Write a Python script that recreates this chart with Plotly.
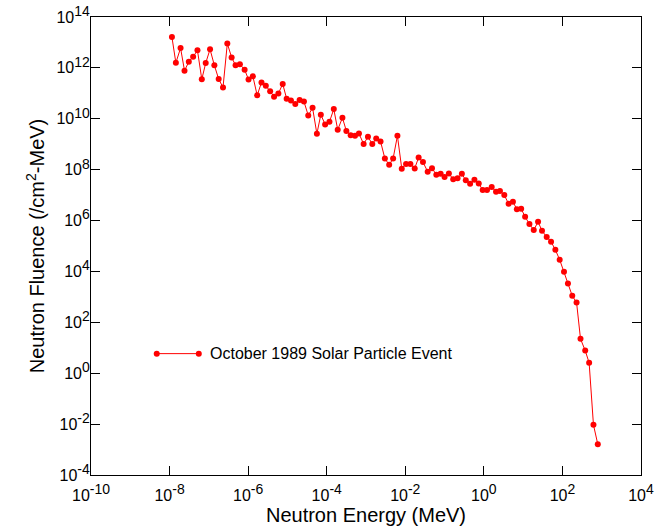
import plotly.graph_objects as go

# log10 of neutron energy (MeV)
log_energy = [
    -7.94, -7.84, -7.72, -7.62, -7.51, -7.40, -7.29, -7.18, -7.08, -6.97,
    -6.86, -6.75, -6.64, -6.53, -6.42, -6.32, -6.21, -6.09, -5.99, -5.88,
    -5.77, -5.66, -5.55, -5.44, -5.34, -5.23, -5.12, -5.02, -4.91, -4.80,
    -4.69, -4.58, -4.47, -4.36, -4.25, -4.15, -4.04, -3.93, -3.82, -3.72,
    -3.60, -3.50, -3.39, -3.28, -3.18, -3.06, -2.95, -2.84, -2.74, -2.63,
    -2.52, -2.41, -2.31, -2.20, -2.09, -1.98, -1.87, -1.76, -1.66, -1.55,
    -1.43, -1.32, -1.21, -1.10, -1.00, -0.89, -0.78, -0.67, -0.56, -0.46,
    -0.35, -0.24, -0.13, -0.03, 0.08, 0.20, 0.31, 0.41, 0.52, 0.63,
    0.74, 0.84, 0.95, 1.05, 1.16, 1.27, 1.38, 1.48, 1.60, 1.71,
    1.82, 1.93, 2.04, 2.14, 2.25, 2.36, 2.46, 2.58, 2.68, 2.79,
    2.90,
]

# log10 of neutron fluence (/cm^2-MeV)
log_fluence = [
    13.21, 12.20, 12.78, 11.89, 12.24, 12.44, 12.69, 11.55, 12.19, 12.73,
    12.10, 11.56, 11.23, 12.96, 12.41, 12.10, 12.14, 11.93, 11.54, 11.67,
    10.92, 11.43, 11.30, 11.08, 10.87, 10.99, 11.37, 10.79, 10.72, 10.58,
    10.74, 10.68, 10.13, 10.43, 9.41, 10.16, 9.78, 9.88, 10.38, 9.57,
    10.04, 9.52, 9.35, 9.33, 9.42, 9.01, 9.29, 9.01, 9.22, 9.11,
    8.44, 8.19, 8.44, 9.33, 8.04, 8.22, 8.22, 8.05, 8.48, 8.30,
    7.92, 8.06, 7.80, 7.84, 7.71, 7.85, 7.62, 7.66, 7.84, 7.58,
    7.45, 7.60, 7.46, 7.20, 7.20, 7.32, 7.13, 7.16, 7.00, 6.66,
    6.74, 6.44, 6.46, 6.15, 5.86, 5.63, 5.95, 5.60, 5.35, 5.17,
    4.85, 4.46, 3.99, 3.53, 3.04, 2.78, 1.35, 0.89, 0.41, -2.03,
    -2.79,
]

energy = [10 ** v for v in log_energy]
fluence = [10 ** v for v in log_fluence]

x_tick_exp = [-10, -8, -6, -4, -2, 0, 2, 4]
y_tick_exp = [-4, -2, 0, 2, 4, 6, 8, 10, 12, 14]
series_name = "October 1989 Solar Particle Event"

RED = "#ff0000"
FONT = "Liberation Sans, Arial, Helvetica, sans-serif"


def pow_label(e):
    return f"10<sup><span style='font-size:14px'>{e}</span></sup>"


fig = go.Figure()
fig.add_trace(go.Scatter(
    x=energy, y=fluence, mode="lines+markers", name=series_name,
    line=dict(color=RED, width=1),
    marker=dict(color=RED, size=6),
    showlegend=False,
))

axis_common = dict(
    type="log", showgrid=False, zeroline=False,
    showline=True, linecolor="black", linewidth=1, mirror="ticks",
    ticks="inside", ticklen=9, tickwidth=1, tickcolor="black",
    ticklabeloverflow="allow",
    tickfont=dict(family=FONT, size=16, color="black"),
)

fig.update_xaxes(
    **axis_common,
    range=[-10, 4],
    tickvals=[10 ** e for e in x_tick_exp],
    ticktext=[pow_label(e) for e in x_tick_exp],
    ticklabelstandoff=6,
    title=dict(text="Neutron Energy (MeV)", font=dict(family=FONT, size=20, color="black"), standoff=4),
)
fig.update_yaxes(
    **axis_common,
    range=[-4, 14],
    tickvals=[10 ** e for e in y_tick_exp],
    ticktext=[pow_label(e) for e in y_tick_exp],
    ticklabelstandoff=-3,
    title=dict(text="Neutron Fluence (/cm<sup>2</sup>-MeV)", font=dict(family=FONT, size=20, color="black"), standoff=6),
)

# custom legend entry (line with markers at both ends)
lx0, lx1, ly = 0.1195, 0.196, 0.265
fig.add_shape(type="line", xref="paper", yref="paper", x0=lx0, x1=lx1, y0=ly, y1=ly,
              line=dict(color=RED, width=1))
for lx in (lx0, lx1):
    fig.add_shape(type="circle", xref="paper", yref="paper",
                  x0=-3, x1=3, y0=-3, y1=3, xsizemode="pixel", ysizemode="pixel",
                  xanchor=lx, yanchor=ly,
                  fillcolor=RED, line=dict(color=RED, width=0))
fig.add_annotation(xref="paper", yref="paper", x=0.212, y=ly, text=series_name,
                   showarrow=False, xanchor="left", yanchor="middle",
                   font=dict(family=FONT, size=16, color="black"))

fig.update_layout(
    width=664, height=532,
    margin=dict(l=91, r=23, t=17, b=57, autoexpand=False),
    paper_bgcolor="white", plot_bgcolor="white",
    font=dict(family=FONT, color="black"),
)

# remove the default 8px page margin so the figure sits at the window origin
fig.write_html("out.html",
               config={"displayModeBar": False},
               post_script="document.body.style.margin='0px';document.body.style.overflow='hidden';")
